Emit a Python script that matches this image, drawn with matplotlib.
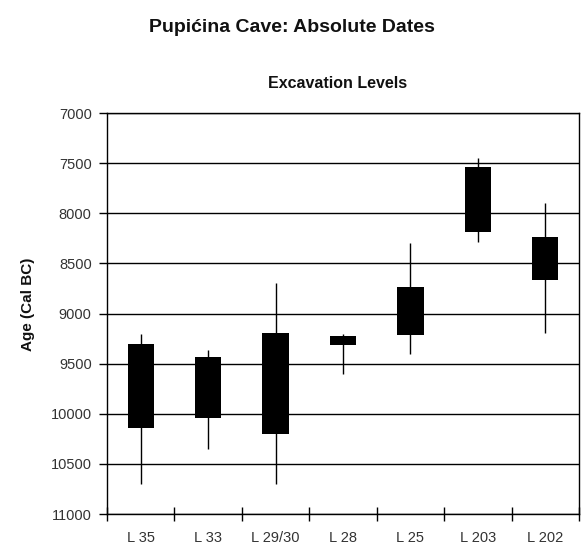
import numpy as np
import matplotlib.pyplot as plt

# Datos (Cal BC)
levels = ['L 35', 'L 33', 'L 29/30', 'L 28', 'L 25', 'L 203', 'L 202']
box_top = [9300, 9430, 9190, 9220, 8740, 7540, 8240]
box_bottom = [10140, 10040, 10200, 9310, 9210, 8190, 8670]
whisk_top = [9200, 9360, 8700, 9200, 8300, 7450, 7900]
whisk_bottom = [10700, 10350, 10700, 9600, 9400, 8290, 9190]
y_ticks = [7000, 7500, 8000, 8500, 9000, 9500, 10000, 10500, 11000]

plt.rcParams['font.family'] = ['Liberation Sans', 'DejaVu Sans']

fig = plt.figure(figsize=(5.84, 5.48), dpi=100)
ax = fig.add_axes([107 / 584, 1 - 514 / 548, 472 / 584, 401 / 548])

x = np.arange(len(levels))
ax.vlines(x, whisk_top, whisk_bottom, color='black', linewidth=1, zorder=2)
heights = np.array(box_bottom) - np.array(box_top)
ax.bar(x, heights, bottom=box_top, width=0.39, color='black', zorder=3)

for v in y_ticks:
    ax.axhline(v, color='black', linewidth=1, zorder=1)

ax.set_xlim(-0.5, len(levels) - 0.5)
ax.set_ylim(11000, 7000)
ax.set_yticks(y_ticks)
ax.set_yticklabels([str(v) for v in y_ticks], fontsize=10.5, color='#333333')
ax.set_xticks(np.arange(len(levels) + 1) - 0.5)
ax.set_xticks(x, minor=True)
ax.set_xticklabels([])
ax.set_xticklabels(levels, minor=True, fontsize=10.5, color='#333333')
ax.tick_params(axis='x', which='major', direction='inout', length=10, width=1)
ax.tick_params(axis='x', which='minor', length=0, pad=12)
ax.tick_params(axis='y', direction='out', length=6, width=1, pad=5)

for s in ax.spines.values():
    s.set_linewidth(1)
    s.set_color('black')

fig.text(0.5, 1 - 27 / 548, 'Pupićina Cave: Absolute Dates', ha='center', va='center',
         fontsize=14, fontweight='bold', color='#111111')
fig.text(338 / 584, 1 - 84 / 548, 'Excavation Levels', ha='center', va='center',
         fontsize=11.5, fontweight='bold', color='#111111')
fig.text(28 / 584, 1 - 304 / 548, 'Age (Cal BC)', ha='center', va='center',
         rotation=90, fontsize=11, fontweight='bold', color='#111111')

fig.savefig('out.png', dpi=100)
